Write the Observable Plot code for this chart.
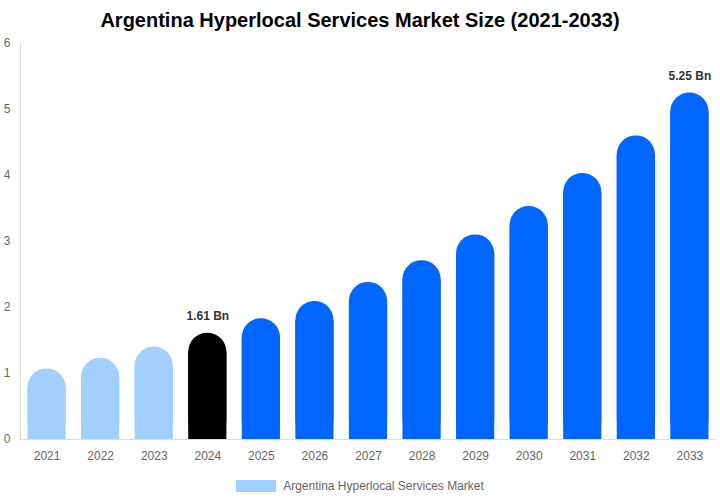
<!DOCTYPE html>
<html>
<head>
<meta charset="utf-8">
<script src="https://cdn.jsdelivr.net/npm/d3@7"></script>
<script src="https://cdn.jsdelivr.net/npm/@observablehq/plot@0.6"></script>
<style>
  html, body { margin: 0; padding: 0; background: #fff; overflow: hidden; }
  body { width: 720px; height: 500px; font-family: "Liberation Sans", Arial, sans-serif; }
  #title { height: 36px; line-height: 40px; text-align: center; font-weight: bold; font-size: 20px; color: #000; }
  #chart { height: 435px; }
  #chart svg { display: block; }
  #legend { height: 29px; display: flex; justify-content: center; align-items: center; font-size: 12px; color: #666; }
  #legend .sw { width: 40px; height: 12px; margin-right: 7px; }
</style>
</head>
<body>
<div id="title">Argentina Hyperlocal Services Market Size (2021-2033)</div>
<div id="chart"></div>
<div id="legend"></div>
<script>
const years = ["2021","2022","2023","2024","2025","2026","2027","2028","2029","2030","2031","2032","2033"];
const values = [1.07, 1.23, 1.40, 1.61, 1.83, 2.09, 2.38, 2.71, 3.10, 3.53, 4.03, 4.60, 5.25];
const groups = ["hist","hist","hist","base","fcst","fcst","fcst","fcst","fcst","fcst","fcst","fcst","fcst"];
const labelYears = ["2024", "2033"];
const seriesName = "Argentina Hyperlocal Services Market";
const groupColors = {hist: "#a1cfff", base: "#000000", fcst: "#0066ff"};
const yTicks = [0, 1, 2, 3, 4, 5, 6];

const data = years.map((y, i) => ({year: y, value: values[i], group: groups[i]}));
const labelled = data.filter(d => labelYears.includes(d.year));
const capUnits = 0.29;

const chart = Plot.plot({
  width: 720,
  height: 435,
  marginTop: 7,
  marginLeft: 20,
  marginRight: 4,
  marginBottom: 32,
  style: {fontFamily: "'Liberation Sans', Arial, sans-serif", fontSize: "12px", color: "#666", background: "#fff"},
  x: {domain: years, paddingInner: 0.287, paddingOuter: 0.14, round: false, label: null},
  y: {domain: [0, 6], ticks: yTicks, label: null},
  marks: [
    Plot.barY(data, {x: "year", y: "value", fill: d => groupColors[d.group], rx: 19, ry: 19}),
    Plot.barY(data, {x: "year", y1: 0, y2: d => Math.max(0, d.value - capUnits), fill: d => groupColors[d.group]}),
    Plot.frame({anchor: "left", stroke: "#ddd"}),
    Plot.ruleY([0], {stroke: "#ddd"}),
    Plot.axisY({ticks: yTicks, tickFormat: d => String(d), tickSize: 0, tickPadding: 10, label: null, fill: "#666", fontSize: 12}),
    Plot.axisX({tickSize: 0, tickPadding: 12, label: null, fill: "#666", fontSize: 12}),
    Plot.text(labelled, {x: "year", y: "value", text: d => d.value.toFixed(2) + " Bn", dy: -17, fontWeight: "bold", fontSize: 12, fill: "#333"})
  ]
});
document.getElementById("chart").appendChild(chart);

const lg = document.getElementById("legend");
const sw = document.createElement("div");
sw.className = "sw";
sw.style.background = groupColors.hist;
const tx = document.createElement("span");
tx.textContent = seriesName;
lg.appendChild(sw);
lg.appendChild(tx);
</script>
</body>
</html>
